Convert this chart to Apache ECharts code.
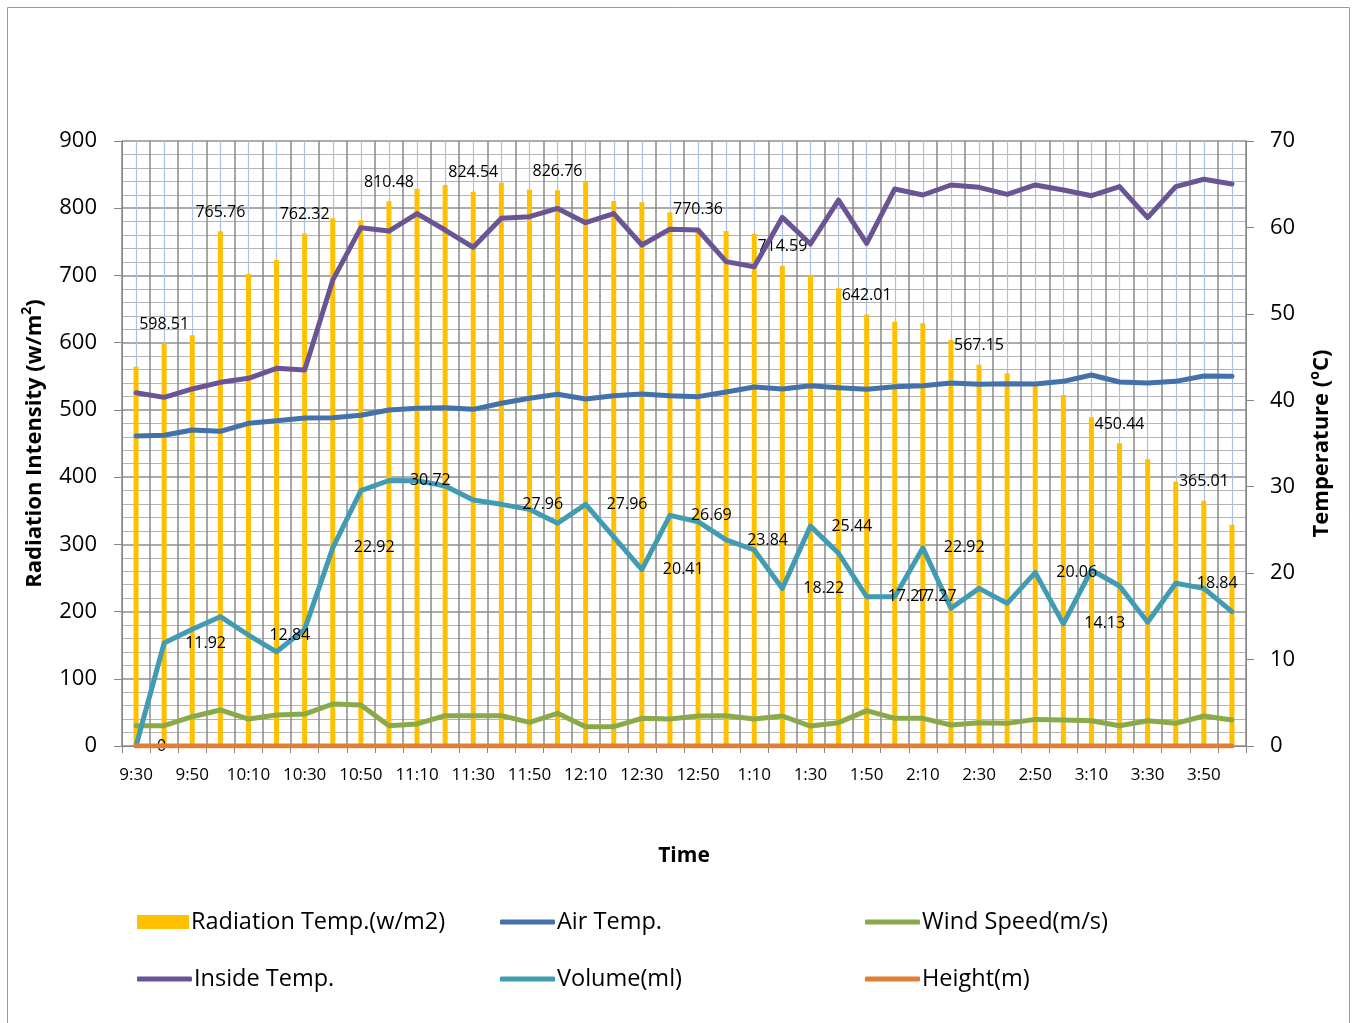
<!DOCTYPE html>
<html>
<head>
<meta charset="utf-8">
<script src="https://cdn.jsdelivr.net/npm/echarts@6/dist/echarts.min.js"></script>
<style>
  html, body { margin: 0; padding: 0; background: #ffffff; }
  #chart { width: 1357px; height: 1023px; }
</style>
</head>
<body>
<div id="chart"></div>
<script>
// Time of day, every 10 minutes
const times = ['9:30','9:40','9:50','10:00','10:10','10:20','10:30','10:40','10:50','11:00',
  '11:10','11:20','11:30','11:40','11:50','12:00','12:10','12:20','12:30','12:40',
  '12:50','1:00','1:10','1:20','1:30','1:40','1:50','2:00','2:10','2:20',
  '2:30','2:40','2:50','3:00','3:10','3:20','3:30','3:40','3:50','4:00'];

// Radiation intensity (w/m2), left axis
const radiation = [564, 598.51, 611, 765.76, 702, 723, 762.32, 785, 782, 810.48,
  828.6, 834.6, 824.54, 838, 827.6, 826.76, 839, 810.7, 809, 794,
  770.36, 766, 762, 714.59, 699.7, 681, 642.01, 631, 629, 604,
  567.15, 554.4, 540, 522, 489, 450.44, 426.5, 393, 365.01, 329];

// Temperatures (°C), right axis
const airTemp = [35.87, 35.95, 36.56, 36.41, 37.33, 37.64, 37.95, 37.99, 38.26, 38.88,
  39.07, 39.15, 38.95, 39.65, 40.23, 40.69, 40.15, 40.53, 40.73, 40.53,
  40.42, 40.96, 41.54, 41.31, 41.69, 41.46, 41.27, 41.57, 41.69, 42.0,
  41.85, 41.92, 41.88, 42.19, 42.92, 42.11, 42.0, 42.19, 42.81, 42.77];

const insideTemp = [40.88, 40.34, 41.31, 42.08, 42.54, 43.7, 43.5, 53.9, 59.97, 59.58,
  61.6, 59.7, 57.7, 61.05, 61.24, 62.2, 60.55, 61.6, 57.97, 59.8,
  59.7, 56.04, 55.46, 61.17, 58.08, 63.17, 58.16, 64.45, 63.75, 64.91,
  64.64, 63.83, 64.91, 64.33, 63.67, 64.72, 61.13, 64.72, 65.57, 65.02];

// Wind speed (m/s)
const windSpeed = [2.35, 2.35, 3.39, 4.17, 3.12, 3.59, 3.7, 4.86, 4.74, 2.35,
  2.55, 3.51, 3.51, 3.51, 2.74, 3.78, 2.24, 2.24, 3.2, 3.12,
  3.47, 3.51, 3.12, 3.47, 2.31, 2.7, 4.09, 3.2, 3.2, 2.43,
  2.7, 2.62, 3.08, 3.0, 2.93, 2.35, 2.93, 2.62, 3.47, 3.0];

// Collected volume (ml)
const volume = [0, 11.92, 13.5, 14.96, 12.84, 10.9, 13.5, 22.92, 29.54, 30.72,
  30.7, 30.08, 28.46, 27.96, 27.38, 25.77, 27.96, 24.2, 20.41, 26.69,
  25.95, 23.84, 22.68, 18.22, 25.44, 22.3, 17.27, 17.27, 22.92, 15.93,
  18.24, 16.5, 20.06, 14.13, 20.36, 18.51, 14.31, 18.84, 18.24, 15.54];

// Height (m)
const height = [0, 0, 0, 0, 0, 0, 0, 0, 0, 0, 0, 0, 0, 0, 0, 0, 0, 0, 0, 0,
  0, 0, 0, 0, 0, 0, 0, 0, 0, 0, 0, 0, 0, 0, 0, 0, 0, 0, 0, 0];

// Points that carry a value label
const radiationLabelled = [1, 3, 6, 9, 12, 15, 20, 23, 26, 30, 35, 38];
const volumeLabelled = [0, 1, 4, 7, 9, 13, 16, 18, 19, 21, 23, 24, 26, 27, 28, 32, 33, 37];

const leftTicks = { min: 0, max: 900, interval: 100 };
const rightTicks = { min: 0, max: 70, interval: 10 };

const names = ['Radiation Temp.(w/m2)', 'Air Temp.', 'Wind Speed(m/s)',
  'Inside Temp.', 'Volume(ml)', 'Height(m)'];

const FONT = 'Open Sans';

const radiationData = radiation.map((v, i) =>
  radiationLabelled.indexOf(i) < 0 ? v : { value: v, label: { show: true } });
const volumeData = volume.map((v, i) =>
  volumeLabelled.indexOf(i) < 0 ? v : { value: v, label: { show: true } });

function lineSeries(name, data, color, extra) {
  return Object.assign({
    name: name,
    type: 'line',
    xAxisIndex: 0,
    yAxisIndex: 1,
    data: data,
    symbol: 'none',
    smooth: false,
    lineStyle: { color: color, width: 5, join: 'round', cap: 'round' },
    itemStyle: { color: color },
    z: 3
  }, extra || {});
}

const legendPos = [
  [137, 910], [500, 910], [865, 910],
  [137, 967], [500, 967], [865, 967]
];

const chart = echarts.init(document.getElementById('chart'), null, { renderer: 'canvas' });

chart.setOption({
  animation: false,
  backgroundColor: '#ffffff',
  textStyle: { fontFamily: FONT },
  graphic: [{
    type: 'rect',
    shape: { x: 7.5, y: 7.5, width: 1342, height: 1030 },
    style: { fill: 'none', stroke: '#9a9a9a', lineWidth: 1 },
    silent: true
  }],
  grid: { left: 122, right: 111, top: 141, bottom: 277 },
  legend: names.map((n, i) => ({
    data: [n],
    left: legendPos[i][0],
    top: legendPos[i][1],
    padding: 0,
    icon: i === 0 ? 'rect' : 'roundRect',
    itemWidth: i === 0 ? 52 : 55,
    itemHeight: i === 0 ? 14 : 5,
    selectedMode: false,
    textStyle: { fontFamily: FONT, fontSize: 23.5, color: '#000000', padding: [0, 0, 0, -3] }
  })),
  xAxis: [{
    type: 'category',
    data: times,
    boundaryGap: true,
    name: 'Time',
    nameLocation: 'middle',
    nameGap: 100,
    nameTextStyle: { fontFamily: FONT, fontSize: 21, fontWeight: 'bold', color: '#000000' },
    axisLine: { show: true, lineStyle: { color: '#868686', width: 1 } },
    axisTick: { show: true, interval: 0, length: 7, lineStyle: { color: '#868686' } },
    axisLabel: { interval: 1, margin: 21, fontFamily: FONT, fontSize: 17, color: '#000000' },
    splitLine: { show: true, interval: 0, lineStyle: { color: '#8a8a8a', width: 1.5 } }
  }, {
    // light guide lines through the middle of each time slot
    type: 'category',
    data: times,
    boundaryGap: true,
    position: 'bottom',
    axisLine: { show: false },
    axisLabel: { show: false },
    axisTick: { show: true, interval: 0, alignWithLabel: true, inside: true, length: 605,
      lineStyle: { color: '#a9c1e6', width: 1.2 } },
    splitLine: { show: false }
  }],
  yAxis: [{
    type: 'value',
    min: leftTicks.min,
    max: leftTicks.max,
    interval: leftTicks.interval,
    position: 'left',
    name: 'Radiation Intensity (w/m{sup|2})',
    nameLocation: 'middle',
    nameRotate: 90,
    nameGap: 72,
    nameTextStyle: {
      fontFamily: FONT, fontSize: 22, fontWeight: 'bold', color: '#000000', lineHeight: 28,
      rich: { sup: { fontFamily: FONT, fontSize: 14, fontWeight: 'bold', color: '#000000', verticalAlign: 'top', lineHeight: 28 } }
    },
    axisLine: { show: true, lineStyle: { color: '#868686', width: 1 } },
    axisTick: { show: true, length: 8, lineStyle: { color: '#868686' } },
    axisLabel: { margin: 25, fontFamily: FONT, fontSize: 22, color: '#000000' },
    splitLine: { show: true, lineStyle: { color: '#8f8f8f', width: 1.5 } },
    minorTick: { show: false, splitNumber: 5 },
    minorSplitLine: { show: true, lineStyle: { color: '#b4b4b4', width: 1.2 } }
  }, {
    type: 'value',
    min: rightTicks.min,
    max: rightTicks.max,
    interval: rightTicks.interval,
    position: 'right',
    name: 'Temperature ({sup|o}C)',
    nameLocation: 'middle',
    nameRotate: 90,
    nameGap: 62,
    nameTextStyle: {
      fontFamily: FONT, fontSize: 22, fontWeight: 'bold', color: '#000000', lineHeight: 28,
      rich: { sup: { fontFamily: FONT, fontSize: 14, fontWeight: 'bold', color: '#000000', verticalAlign: 'top', lineHeight: 28 } }
    },
    axisLine: { show: true, lineStyle: { color: '#868686', width: 1 } },
    axisTick: { show: true, length: 8, lineStyle: { color: '#868686' } },
    axisLabel: { margin: 24, fontFamily: FONT, fontSize: 22, color: '#000000' },
    splitLine: { show: false }
  }],
  series: [
    {
      name: names[0],
      type: 'bar',
      xAxisIndex: 0,
      yAxisIndex: 0,
      data: radiationData,
      barWidth: 5,
      itemStyle: { color: '#ffc000' },
      label: { show: false, position: 'top', distance: 11, fontFamily: FONT, fontSize: 16, color: '#000000' },
      z: 2
    },
    lineSeries(names[1], airTemp, '#4471a9'),
    lineSeries(names[2], windSpeed, '#8aaa4a'),
    lineSeries(names[3], insideTemp, '#6a5494'),
    lineSeries(names[4], volumeData, '#419bb2', {
      symbol: 'circle',
      symbolSize: 2,
      showSymbol: true,
      label: { show: false, position: 'right', distance: 20, fontFamily: FONT, fontSize: 16, color: '#000000' },
      labelLayout: { hideOverlap: false },
      z: 4
    }),
    lineSeries(names[5], height, '#df7f36', { z: 5 })
  ]
});
</script>
</body>
</html>
